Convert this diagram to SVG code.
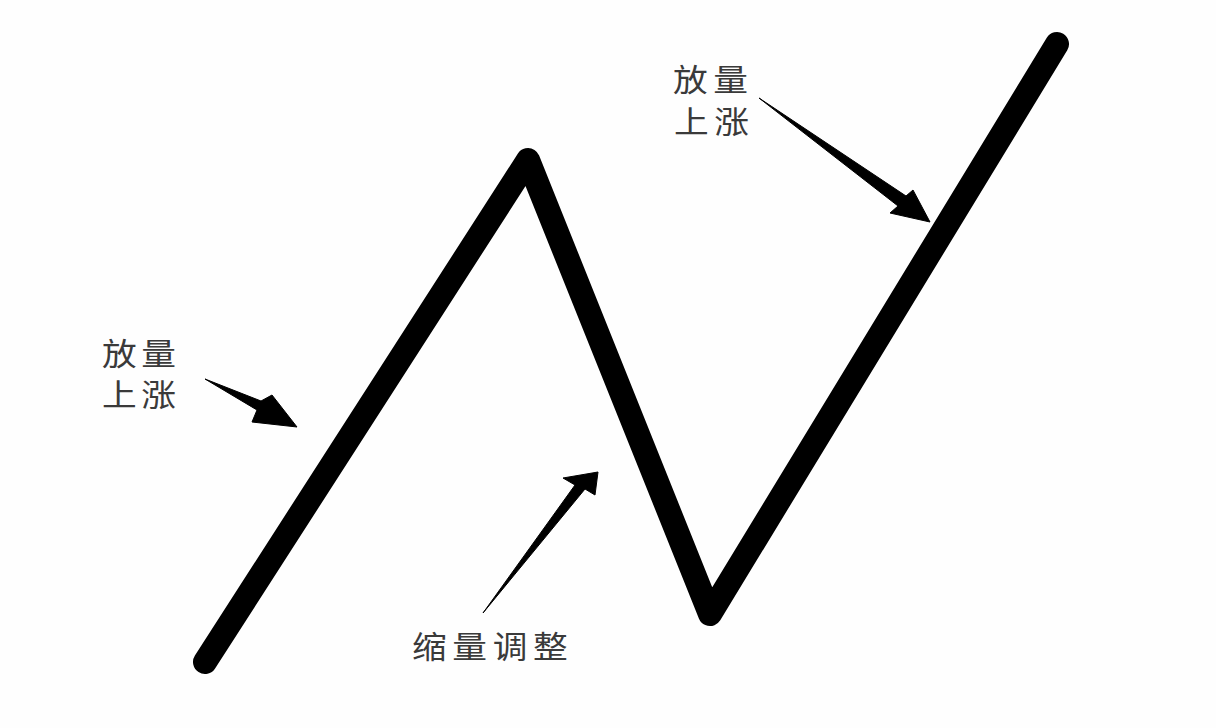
<svg xmlns="http://www.w3.org/2000/svg" width="1216" height="728" viewBox="0 0 1216 728">
<style>
.lbl{font-family:"Noto Sans CJK SC","Noto Sans",sans-serif;font-size:31px;fill:#3a3a3a;}
.trend{fill:none;stroke:#000;stroke-width:24;stroke-linecap:round;stroke-linejoin:round;}
.arr{fill:#000;stroke:#000;stroke-width:1;stroke-linejoin:round;}
</style>
<rect width="1216" height="728" fill="#fefefe"/>
<g id="trend-line">
<polyline class="trend" points="205,662 528,160 710,614 1057,44"/>
</g>
<g id="connectors">
<path id="arrow-left" class="arr" d="M205,379 L261,401 L272,395 L297,427 L252,422 L257,410 Z"/>
<path id="arrow-right" class="arr" d="M759,98 L906,196 L913,190 L930,222 L890,213 L898,206 Z"/>
<path id="arrow-bottom" class="arr" d="M483,613 L575,485 L563,478 L598,472 L595,495 L585,489 Z"/>
</g>
<g id="label-left">
<text class="lbl" transform="translate(102,365) scale(1.12,1)" letter-spacing="4">放量</text>
<text class="lbl" transform="translate(102,406) scale(1.12,1)" letter-spacing="4">上涨</text>
</g>
<g id="label-right">
<text class="lbl" transform="translate(673,91) scale(1.12,1)" letter-spacing="5">放量</text>
<text class="lbl" transform="translate(674,133) scale(1.12,1)" letter-spacing="5">上涨</text>
</g>
<g id="label-bottom">
<text class="lbl" transform="translate(412,658) scale(1.12,1)" letter-spacing="5">缩量调整</text>
</g>
</svg>
